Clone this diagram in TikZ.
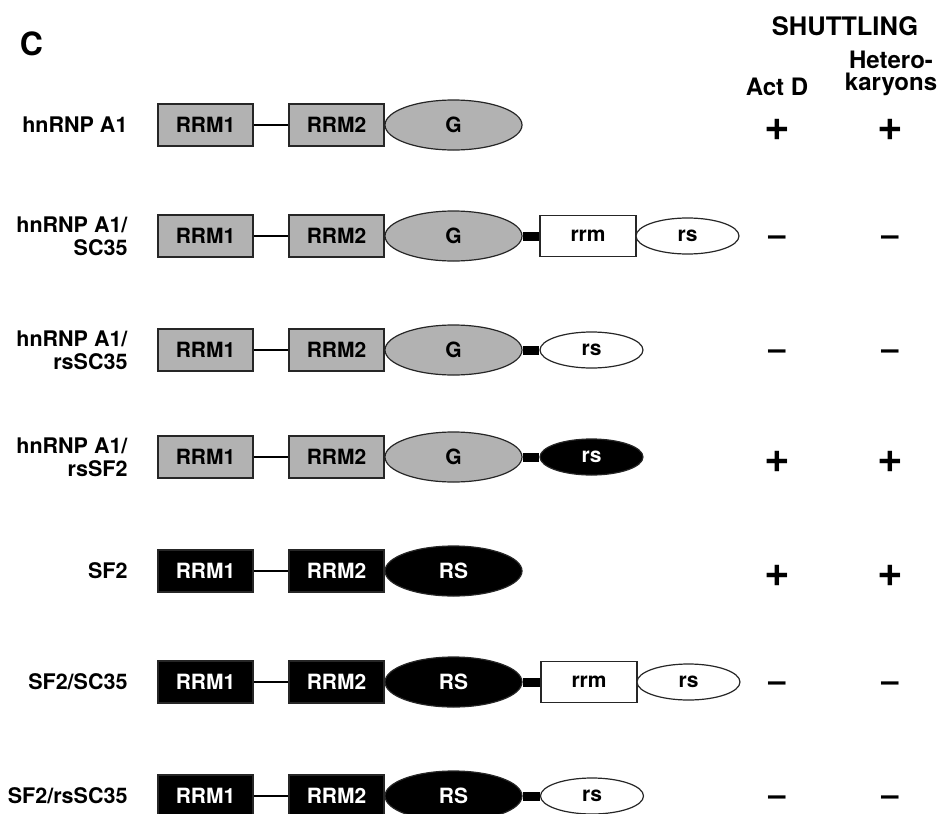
\documentclass[tikz,border=0pt]{standalone}
\usepackage{fontspec}
\setmainfont{TeX Gyre Heros}
\usepackage{xcolor}
\usetikzlibrary{shapes.geometric}
\definecolor{domgray}{RGB}{178,178,178}

\begin{document}
\begin{tikzpicture}[
  x=1pt, y=-1pt,
  every node/.style={font=\bfseries\fontsize{21}{22}\selectfont},
  dom/.style={draw=black!85, line width=1.2pt, rectangle, minimum width=95pt, minimum height=42pt, inner sep=0pt},
  gdom/.style={dom, fill=domgray},
  bdom/.style={dom, fill=black, text=white},
  rrmbox/.style={dom, minimum width=96pt, minimum height=41pt, fill=white},
  oval/.style={draw=black!85, line width=1.2pt, ellipse, minimum width=137pt, minimum height=50pt, inner sep=0pt},
  goval/.style={oval, fill=domgray},
  boval/.style={oval, fill=black, text=white},
  rsoval/.style={oval, minimum width=103pt, minimum height=36pt, fill=white},
  brsoval/.style={rsoval, fill=black, text=white},
  protname/.style={anchor=east, align=right, font=\bfseries\fontsize{21.5}{23}\selectfont},
  colhead/.style={align=center, font=\bfseries\fontsize{24}{22}\selectfont},
  plus/.style={font=\bfseries\fontsize{44}{44}\selectfont},
  minus/.style={font=\bfseries\fontsize{31}{31}\selectfont},
  link/.style={line width=1.5pt},
  tether/.style={line width=9pt},
]
  \useasboundingbox (0,0) rectangle (940,814);

  % ---------- panel letter and column heads ----------
  \node[font=\bfseries\fontsize{32}{32}\selectfont] (panel) at (31.5,44) {C};
  \node[colhead, font=\bfseries\fontsize{25.5}{22}\selectfont] (shut) at (845,26) {SHUTTLING};
  \node[colhead] (actd) at (777,87) {Act D};
  \node[colhead] (hetk) at (891,73) {Hetero-\\karyons};

  % ---------- hnRNP A1 ----------
  \node[protname] (n1) at (131,125) {hnRNP A1};
  \node[gdom]  (a1) at (205.5,125) {RRM1};
  \node[gdom]  (b1) at (336.5,125) {RRM2};
  \node[goval] (c1) at (453.5,125) {G};
  \draw[link] (a1) -- (b1);
  \node[plus] (s1) at (777,130) {+};
  \node[plus] (t1) at (890,130) {+};

  % ---------- hnRNP A1/SC35 ----------
  \node[protname] (n2) at (131,236) {hnRNP A1/\\SC35};
  \node[gdom]  (a2) at (205.5,236) {RRM1};
  \node[gdom]  (b2) at (336.5,236) {RRM2};
  \node[goval] (c2) at (453.5,236) {G};
  \node[rrmbox] (d2) at (588,236) {rrm};
  \node[rsoval] (e2) at (687.5,236) {rs};
  \draw[link] (a2) -- (b2);
  \draw[tether] (c2) -- (d2);
  \node[minus] (s2) at (777,241) {--};
  \node[minus] (t2) at (890,241) {--};

  % ---------- hnRNP A1/rsSC35 ----------
  \node[protname] (n3) at (131,350) {hnRNP A1/\\rsSC35};
  \node[gdom]  (a3) at (205.5,350) {RRM1};
  \node[gdom]  (b3) at (336.5,350) {RRM2};
  \node[goval] (c3) at (453.5,350) {G};
  \node[rsoval] (e3) at (591.5,350) {rs};
  \draw[link] (a3) -- (b3);
  \draw[tether] (c3) -- (e3);
  \node[minus] (s3) at (777,355) {--};
  \node[minus] (t3) at (890,355) {--};

  % ---------- hnRNP A1/rsSF2 ----------
  \node[protname] (n4) at (131,457) {hnRNP A1/\\rsSF2};
  \node[gdom]  (a4) at (205.5,457) {RRM1};
  \node[gdom]  (b4) at (336.5,457) {RRM2};
  \node[goval] (c4) at (453.5,457) {G};
  \node[brsoval] (e4) at (591.5,457) {rs};
  \draw[link] (a4) -- (b4);
  \draw[tether] (c4) -- (e4);
  \node[plus] (s4) at (777,462) {+};
  \node[plus] (t4) at (890,462) {+};

  % ---------- SF2 ----------
  \node[protname] (n5) at (131,571) {SF2};
  \node[bdom]  (a5) at (205.5,571) {RRM1};
  \node[bdom]  (b5) at (336.5,571) {RRM2};
  \node[boval] (c5) at (453.5,571) {RS};
  \draw[link] (a5) -- (b5);
  \node[plus] (s5) at (777,576) {+};
  \node[plus] (t5) at (890,576) {+};

  % ---------- SF2/SC35 ----------
  \node[protname] (n6) at (131,682) {SF2/SC35};
  \node[bdom]  (a6) at (205.5,682) {RRM1};
  \node[bdom]  (b6) at (336.5,682) {RRM2};
  \node[boval] (c6) at (453.5,682) {RS};
  \node[rrmbox] (d6) at (589,682) {rrm};
  \node[rsoval] (e6) at (688.5,682) {rs};
  \draw[link] (a6) -- (b6);
  \draw[tether] (c6) -- (d6);
  \node[minus] (s6) at (777,687) {--};
  \node[minus] (t6) at (890,687) {--};

  % ---------- SF2/rsSC35 ----------
  \node[protname] (n7) at (131,796) {SF2/rsSC35};
  \node[bdom]  (a7) at (205.5,796) {RRM1};
  \node[bdom]  (b7) at (336.5,796) {RRM2};
  \node[boval] (c7) at (453.5,796) {RS};
  \node[rsoval] (e7) at (592,796) {rs};
  \draw[link] (a7) -- (b7);
  \draw[tether] (c7) -- (e7);
  \node[minus] (s7) at (777,801) {--};
  \node[minus] (t7) at (890,801) {--};
\end{tikzpicture}
\end{document}
